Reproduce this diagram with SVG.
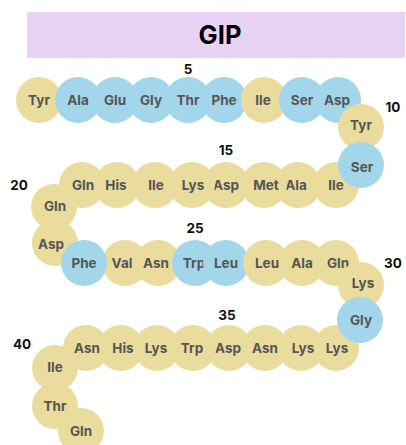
<svg xmlns="http://www.w3.org/2000/svg" width="406" height="445" viewBox="0 0 406 445">
<style>
.y{fill:#EADC9D}
.b{fill:#A3D6EA}
.t{font-family:Inter,Roboto,"Liberation Sans",sans-serif;font-weight:bold;font-size:13.5px;fill:#555555;text-anchor:middle}
.n{font-family:Inter,Roboto,"Liberation Sans",sans-serif;font-weight:bold;font-size:13.5px;fill:#111111;text-anchor:middle}
</style>
<rect width="406" height="445" fill="#ffffff"/>
<g id="title">
<rect x="27" y="12" width="378" height="46" fill="#E9D3F5"/>
<text x="220" y="44" font-family="Inter,Roboto,'Liberation Sans',sans-serif" font-weight="bold" font-size="25.5" fill="#000" text-anchor="middle">GIP</text>
</g>
<g id="residues">
<g id="r1"><circle class="y" cx="39" cy="100" r="23"/><text class="t" x="39" y="105">Tyr</text></g>
<g id="r2"><circle class="b" cx="78" cy="100" r="23"/><text class="t" x="78" y="105">Ala</text></g>
<g id="r3"><circle class="b" cx="115" cy="100" r="23"/><text class="t" x="115" y="105">Glu</text></g>
<g id="r4"><circle class="b" cx="151" cy="100" r="23"/><text class="t" x="151" y="105">Gly</text></g>
<g id="r5"><circle class="b" cx="188" cy="100" r="23"/><text class="t" x="188" y="105">Thr</text></g>
<g id="r6"><circle class="b" cx="224" cy="100" r="23"/><text class="t" x="224" y="105">Phe</text></g>
<g id="r7"><circle class="y" cx="264" cy="100" r="23"/><text class="t" x="263" y="105">Ile</text></g>
<g id="r8"><circle class="b" cx="302" cy="100" r="23"/><text class="t" x="302" y="105">Ser</text></g>
<g id="r9"><circle class="b" cx="338" cy="100" r="23"/><text class="t" x="337" y="105">Asp</text></g>
<g id="r10"><circle class="y" cx="361" cy="127" r="23"/><text class="t" x="361" y="130">Tyr</text></g>
<g id="r12"><circle class="y" cx="336" cy="185" r="23"/><text class="t" x="336" y="190">Ile</text></g>
<g id="r11"><circle class="b" cx="361" cy="165" r="23"/><text class="t" x="362" y="172">Ser</text></g>
<g id="r13"><circle class="y" cx="298" cy="185" r="23"/><text class="t" x="296" y="190">Ala</text></g>
<g id="r14"><circle class="y" cx="264" cy="185" r="23"/><text class="t" x="266" y="190">Met</text></g>
<g id="r15"><circle class="y" cx="226" cy="185" r="23"/><text class="t" x="226" y="190">Asp</text></g>
<g id="r16"><circle class="y" cx="192" cy="185" r="23"/><text class="t" x="193" y="190">Lys</text></g>
<g id="r17"><circle class="y" cx="155" cy="185" r="23"/><text class="t" x="156" y="190">Ile</text></g>
<g id="r18"><circle class="y" cx="117" cy="185" r="23"/><text class="t" x="116" y="190">His</text></g>
<g id="r19"><circle class="y" cx="82" cy="185" r="23"/><text class="t" x="83" y="190">Gln</text></g>
<g id="r20"><circle class="y" cx="54" cy="207" r="23"/><text class="t" x="55" y="211">Gln</text></g>
<g id="r21"><circle class="y" cx="55" cy="243" r="23"/><text class="t" x="51" y="249">Asp</text></g>
<g id="r23"><circle class="y" cx="125" cy="263" r="23"/><text class="t" x="122" y="268">Val</text></g>
<g id="r22"><circle class="b" cx="84" cy="263" r="23"/><text class="t" x="84" y="268">Phe</text></g>
<g id="r24"><circle class="y" cx="158" cy="263" r="23"/><text class="t" x="156" y="268">Asn</text></g>
<g id="r25"><circle class="b" cx="195" cy="263" r="23"/><text class="t" x="194" y="268">Trp</text></g>
<g id="r26"><circle class="b" cx="226" cy="263" r="23"/><text class="t" x="226" y="268">Leu</text></g>
<g id="r27"><circle class="y" cx="266" cy="263" r="23"/><text class="t" x="267" y="268">Leu</text></g>
<g id="r28"><circle class="y" cx="302" cy="263" r="23"/><text class="t" x="302" y="268">Ala</text></g>
<g id="r29"><circle class="y" cx="336" cy="263" r="23"/><text class="t" x="338" y="268">Gln</text></g>
<g id="r30"><circle class="y" cx="361" cy="285" r="23"/><text class="t" x="363" y="288">Lys</text></g>
<g id="r32"><circle class="y" cx="336" cy="348" r="23"/><text class="t" x="337" y="353">Lys</text></g>
<g id="r31"><circle class="b" cx="360" cy="320" r="23"/><text class="t" x="361" y="325">Gly</text></g>
<g id="r33"><circle class="y" cx="301" cy="348" r="23"/><text class="t" x="303" y="353">Lys</text></g>
<g id="r34"><circle class="y" cx="265" cy="348" r="23"/><text class="t" x="265" y="353">Asn</text></g>
<g id="r35"><circle class="y" cx="229" cy="348" r="23"/><text class="t" x="228" y="353">Asp</text></g>
<g id="r36"><circle class="y" cx="193" cy="348" r="23"/><text class="t" x="192" y="353">Trp</text></g>
<g id="r37"><circle class="y" cx="157" cy="348" r="23"/><text class="t" x="156" y="353">Lys</text></g>
<g id="r38"><circle class="y" cx="121" cy="348" r="23"/><text class="t" x="123" y="353">His</text></g>
<g id="r39"><circle class="y" cx="86" cy="348" r="23"/><text class="t" x="87" y="353">Asn</text></g>
<g id="r40"><circle class="y" cx="55" cy="368" r="23"/><text class="t" x="55" y="372">Ile</text></g>
<g id="r41"><circle class="y" cx="55" cy="406" r="23"/><text class="t" x="55" y="411">Thr</text></g>
<g id="r42"><circle class="y" cx="81" cy="431" r="23"/><text class="t" x="81" y="436">Gln</text></g>
</g>
<g id="numbers">
<text class="n" x="188" y="74">5</text>
<text class="n" x="393" y="112">10</text>
<text class="n" x="226" y="155">15</text>
<text class="n" x="19" y="190">20</text>
<text class="n" x="195" y="233">25</text>
<text class="n" x="393" y="268">30</text>
<text class="n" x="227" y="320">35</text>
<text class="n" x="22" y="349">40</text>
</g>
</svg>
